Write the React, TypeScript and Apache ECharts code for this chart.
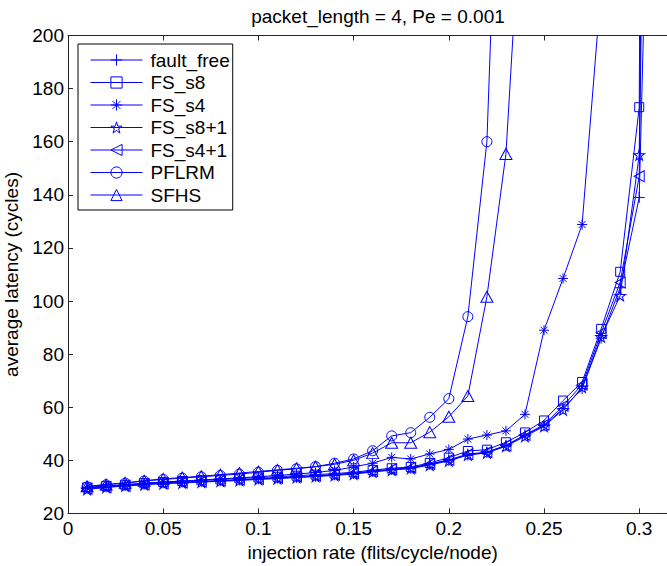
import React, { useEffect, useRef } from "react";
import * as echarts from "echarts";

const injectionRates = [
  0.01, 0.02, 0.03, 0.04, 0.05, 0.06, 0.07, 0.08, 0.09, 0.1,
  0.11, 0.12, 0.13, 0.14, 0.15, 0.16, 0.17, 0.18, 0.19, 0.2,
  0.21, 0.22, 0.23, 0.24, 0.25, 0.26, 0.27, 0.28, 0.29, 0.3, 0.31,
];

const faultFree = [29.5, 30.0, 30.5, 31.0, 31.5, 31.8, 32.0, 32.3, 32.6, 33.0, 33.3, 33.6, 34.0, 34.5, 35.0, 35.8, 36.5, 37.0, 38.5, 40.0, 42.0, 43.0, 45.5, 49.5, 53.0, 59.5, 67.0, 86.0, 105.0, 139.0, 420];
const fsS8 = [29.8, 30.3, 30.8, 31.4, 31.8, 32.2, 32.5, 32.8, 33.2, 33.5, 33.8, 34.2, 34.6, 35.0, 35.5, 36.3, 37.0, 37.5, 39.0, 41.0, 43.5, 44.0, 46.8, 50.5, 55.0, 62.5, 69.5, 89.5, 111.0, 173.0, 1500];
const fsS4 = [29.6, 30.2, 30.7, 31.3, 31.8, 32.2, 32.6, 33.0, 33.4, 33.8, 34.3, 34.8, 35.4, 36.2, 37.5, 38.9, 41.1, 40.5, 42.4, 44.1, 48.0, 49.5, 51.1, 57.3, 89.0, 108.5, 128.8, 218, 400, 700, 1000];
const fsS8p1 = [29.0, 29.8, 30.3, 30.8, 31.2, 31.5, 31.8, 32.1, 32.4, 32.8, 33.1, 33.5, 33.9, 34.3, 34.8, 35.6, 36.3, 36.9, 38.2, 39.8, 42.0, 42.8, 45.3, 49.0, 52.8, 59.0, 67.5, 86.5, 102.0, 155.0, 800];
const fsS4p1 = [29.3, 29.9, 30.4, 31.0, 31.4, 31.7, 32.0, 32.3, 32.7, 33.0, 33.4, 33.8, 34.2, 34.6, 35.2, 35.9, 36.6, 37.2, 38.6, 40.2, 42.3, 43.1, 45.6, 49.6, 53.4, 60.5, 68.5, 88.0, 107.0, 147.0, 700];
const pflrm = [30.0, 30.8, 31.4, 32.2, 32.8, 33.3, 33.8, 34.3, 34.8, 35.5, 36.2, 36.8, 37.6, 38.9, 40.5, 43.6, 49.2, 50.4, 56.2, 63.2, 94.1, 160.0, 360];
const sfhs = [30.2, 30.9, 31.5, 32.3, 33.0, 33.5, 34.0, 34.6, 35.2, 35.8, 36.4, 37.0, 37.6, 38.5, 40.0, 42.7, 46.6, 46.6, 50.6, 56.4, 64.2, 101.6, 155.4, 276];

const seriesNames = ["fault_free", "FS_s8", "FS_s4", "FS_s8+1", "FS_s4+1", "PFLRM", "SFHS"];

const SYM_PLUS = "path://M5,0L5,10M0,5L10,5";
const SYM_AST = "path://M5,0L5,10M0,5L10,5M1.5,1.5L8.5,8.5M8.5,1.5L1.5,8.5";
const SYM_STAR = "path://M5,0L6.123,3.455L9.755,3.455L6.817,5.59L7.939,9.045L5,6.91L2.061,9.045L3.183,5.59L0.245,3.455L3.877,3.455Z";
const SYM_LTRI = "path://M10,0L0,5L10,10Z";
const SYM_TRI = "path://M5,0L10,9L0,9Z";

const BLUE = "#0000ff";
const FONT = "Liberation Sans";
const FS = 19;
const CHART_W = 700;

function pairs(vals: number[]) {
  return vals.map((v, i) => [injectionRates[i], v]);
}

export default function App() {
  const ref = useRef<HTMLDivElement>(null);
  useEffect(() => {
    if (!ref.current) return;
    const chart = echarts.init(ref.current, undefined, { renderer: "svg" });
    const mk = (name: string, vals: number[], symbol: string, size: number | number[]) => ({
      name,
      type: "line",
      data: pairs(vals),
      symbol,
      symbolSize: size,
      clip: true,
      lineStyle: { color: BLUE, width: 1 },
      itemStyle: { color: "transparent", borderColor: BLUE, borderWidth: 1 },
      emphasis: { disabled: true },
    });
    const axisCommon = {
      axisLine: { show: true, onZero: false, lineStyle: { color: "#262626", width: 1 } },
      splitLine: { show: false },
    };
    chart.setOption({
      animation: false,
      backgroundColor: "#ffffff",
      textStyle: { fontFamily: FONT },
      title: {
        text: "packet_length = 4, Pe = 0.001",
        left: 373,
        top: 2,
        textAlign: "center",
        textStyle: { fontFamily: FONT, fontSize: FS, fontWeight: "normal", color: "#000" },
      },
      grid: {
        left: 68,
        top: 35.5,
        right: CHART_W - 677.3,
        bottom: 52.6,
        containLabel: false,
        outerBoundsMode: "none",
      },
      legend: {
        orient: "vertical",
        left: 78,
        top: 44,
        data: seriesNames,
        itemWidth: 52,
        itemHeight: 14,
        itemGap: 3.5,
        padding: [6.5, 3, 5.5, 12],
        borderColor: "#000",
        borderWidth: 1,
        backgroundColor: "#fff",
        itemStyle: { color: "transparent", borderColor: BLUE, borderWidth: 1 },
        lineStyle: { color: BLUE, width: 1 },
        textStyle: { fontFamily: FONT, fontSize: FS, color: "#000", lineHeight: 19, padding: [0, 0, 0, 3] },
      },
      xAxis: [
        {
          type: "value",
          min: 0,
          max: 0.32,
          interval: 0.05,
          position: "bottom",
          ...axisCommon,
          axisTick: { show: true, inside: true, length: 5, lineStyle: { color: "#262626" } },
          axisLabel: {
            fontFamily: FONT,
            fontSize: FS,
            color: "#000",
            margin: 6,
            formatter: (v: number) => {
              const r = Math.round(v * 100) / 100;
              if (Math.abs(r / 0.05 - Math.round(r / 0.05)) > 1e-6) return "";
              return String(r);
            },
          },
          name: "injection rate (flits/cycle/node)",
          nameLocation: "middle",
          nameGap: 30,
          nameTextStyle: { fontFamily: FONT, fontSize: FS, color: "#000" },
        },
        {
          type: "value",
          min: 0,
          max: 0.32,
          interval: 0.05,
          position: "top",
          ...axisCommon,
          axisTick: { show: true, inside: true, length: 5, lineStyle: { color: "#262626" } },
          axisLabel: { show: false },
        },
      ],
      yAxis: [
        {
          type: "value",
          min: 20,
          max: 200,
          interval: 20,
          position: "left",
          ...axisCommon,
          axisTick: { show: true, inside: true, length: 5, lineStyle: { color: "#262626" } },
          axisLabel: { fontFamily: FONT, fontSize: FS, color: "#000", margin: 4 },
          name: "average latency (cycles)",
          nameLocation: "middle",
          nameGap: 43,
          nameTextStyle: { fontFamily: FONT, fontSize: FS, color: "#000" },
        },
      ],
      series: [
        mk("fault_free", faultFree, SYM_PLUS, 11),
        mk("FS_s8", fsS8, "rect", 9),
        mk("FS_s4", fsS4, SYM_AST, 10),
        mk("FS_s8+1", fsS8p1, SYM_STAR, [11, 10.5]),
        mk("FS_s4+1", fsS4p1, SYM_LTRI, [10, 11]),
        mk("PFLRM", pflrm, "circle", 10),
        mk("SFHS", sfhs, SYM_TRI, [12, 11]),
      ],
    });
    return () => chart.dispose();
  }, []);
  return (
    <div
      ref={ref}
      style={{ position: "fixed", left: 0, top: 0, width: CHART_W, height: 566 }}
    />
  );
}
